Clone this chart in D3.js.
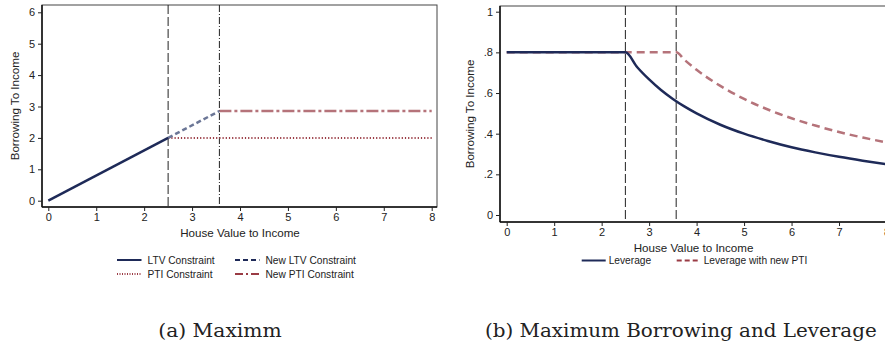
<!DOCTYPE html>
<html><head><meta charset="utf-8">
<script src="https://cdn.jsdelivr.net/npm/d3@7"></script>
<style>body{margin:0;background:#fff}svg{display:block}</style>
</head><body>
<svg id="c" width="885" height="345"></svg>
<script>
// ---- Data (left panel) ----
const xTicks = [0,1,2,3,4,5,6,7,8];
const yTicksA = [0,1,2,3,4,5,6];
const yTicksB = [0,0.2,0.4,0.6,0.8,1];
const yTickLabelsB = ["0",".2",".4",".6",".8","1"];
const cutoffs = [2.5, 3.57];
const ltvX = [0, 2.5], ltvY = [0, 2];
const newLtvX = [2.5, 3.57], newLtvY = [2, 2.857];
const ptiX = [2.5, 8], ptiY = [2, 2];
const newPtiX = [3.57, 8], newPtiY = [2.857, 2.857];
// ---- Data (right panel) ----
const levX = [0, 2.5, 2.75, 3, 3.25, 3.5, 3.75, 4, 4.5, 5, 5.5, 6, 6.5, 7, 7.5, 8];
const levY = [0.8, 0.8, 0.727, 0.667, 0.615, 0.571, 0.533, 0.5, 0.444, 0.4, 0.364, 0.333, 0.308, 0.286, 0.267, 0.25];
const levNewX = [0, 3.57, 3.75, 4, 4.5, 5, 5.5, 6, 6.5, 7, 7.5, 8];
const levNewY = [0.8, 0.8, 0.762, 0.714, 0.635, 0.571, 0.519, 0.476, 0.44, 0.408, 0.381, 0.357];
const legendA = ["LTV Constraint","PTI Constraint","New LTV Constraint","New PTI Constraint"];
const legendB = ["Leverage","Leverage with new PTI"];
const captions = ["(a) Maximm","(b) Maximum Borrowing and Leverage"];
const xTitle = "House Value to Income", yTitle = "Borrowing To Income";

const NAVY="#1e2a58", NAVYL="#6b7696", MAROON="#9a3b44", ROSE="#b5737a";
const svg = d3.select("#c");
const FONT = "Liberation Sans, Arial, sans-serif";
const zip=(xs,ys)=>xs.map((x,i)=>[x,ys[i]]);

function panel(cfg){
  const g = svg.append("g");
  const x = d3.scaleLinear().domain([0,8]).range(cfg.xr);
  const y = d3.scaleLinear().domain(cfg.yd).range(cfg.yr);
  g.append("rect").attr("x",cfg.fx[0]).attr("y",cfg.fy[0])
   .attr("width",cfg.fx[1]-cfg.fx[0]).attr("height",cfg.fy[1]-cfg.fy[0])
   .attr("fill","none").attr("stroke","#444").attr("stroke-width",1);
  const xa = g.append("g").attr("transform",`translate(0,${cfg.fy[1]})`)
    .call(d3.axisBottom(x).tickValues(xTicks).tickSize(4).tickPadding(2).tickFormat(d3.format("d")));
  const ya = g.append("g").attr("transform",`translate(${cfg.fx[0]},0)`)
    .call(d3.axisLeft(y).tickValues(cfg.yt).tickSize(4).tickPadding(3).tickFormat((d,i)=>cfg.ytl[i]));
  [xa,ya].forEach(a=>{a.selectAll("text").attr("font-family",FONT).attr("font-size",11).attr("fill","#222");
    a.select(".domain").attr("stroke","#111").attr("stroke-width",1.5);
    a.selectAll(".tick line").attr("stroke","#222");});
  ya.select(".domain").attr("d",`M-0,${cfg.fy[0]}V${cfg.fy[1]}`);
  xa.select(".domain").attr("d",`M${cfg.fx[0]},0H${cfg.fx[1]}`);
  g.append("text").attr("x",(cfg.xr[0]+cfg.xr[1])/2+cfg.xtdx).attr("y",cfg.fy[1]+30)
    .attr("text-anchor","middle").attr("font-family",FONT).attr("font-size",11.6).attr("fill","#222").text(xTitle);
  g.append("text").attr("transform",`translate(${cfg.ytx},${(cfg.fy[0]+cfg.fy[1])/2}) rotate(-90)`)
    .attr("text-anchor","middle").attr("font-family",FONT).attr("font-size",11.6).attr("fill","#222").text(yTitle);
  g.selectAll(".cut").data(cutoffs).join("line")
    .attr("x1",d=>x(d)).attr("x2",d=>x(d)).attr("y1",cfg.fy[0]).attr("y2",cfg.fy[1])
    .attr("stroke","#222").attr("stroke-width",1).attr("stroke-dasharray",(d,i)=>cfg.dash[i]);
  return {g,x,y};
}

// Left panel
const A = panel({xr:[48.3,431.7], yd:[0,6], yr:[200.7,12.3], fx:[42,437], fy:[5,207], yt:yTicksA, ytl:yTicksA.map(String), ytx:18.5, xtdx:0, dash:["9,3","7,2,1,2"]});
const lineA = d3.line().x(d=>A.x(d[0])).y(d=>A.y(d[1]));
A.g.append("path").attr("d",lineA(zip(ptiX,ptiY))).attr("fill","none").attr("stroke",MAROON).attr("stroke-width",2).attr("stroke-dasharray","1.2,2");
A.g.append("path").attr("d",lineA(zip(newPtiX,newPtiY))).attr("fill","none").attr("stroke",ROSE).attr("stroke-width",2.5).attr("stroke-dasharray","12,3,3,3");
A.g.append("path").attr("d",lineA(zip(newLtvX,newLtvY))).attr("fill","none").attr("stroke",NAVYL).attr("stroke-width",2.5).attr("stroke-dasharray","5,3");
A.g.append("path").attr("d",lineA(zip(ltvX,ltvY))).attr("fill","none").attr("stroke",NAVY).attr("stroke-width",2.5);

// Right panel
const B = panel({xr:[506.7,886.5], yd:[0,1], yr:[215,11.7], fx:[500,905], fy:[6,222], yt:yTicksB, ytl:yTickLabelsB, ytx:474, xtdx:-3, dash:["9,3","9,3"]});
const lineB = d3.line().x(d=>B.x(d[0])).y(d=>B.y(d[1])).curve(d3.curveMonotoneX);
B.g.append("path").attr("d",lineB(zip(levNewX,levNewY))).attr("fill","none").attr("stroke",ROSE).attr("stroke-width",2.5).attr("stroke-dasharray","8,5");
B.g.append("path").attr("d",lineB(zip(levX,levY))).attr("fill","none").attr("stroke",NAVY).attr("stroke-width",2.5);

// Legend A
const legStyles = [
  {c:NAVY,d:null,w:2},{c:MAROON,d:"1,1.5",w:1.8},{c:NAVY,d:"5,3",w:2},{c:MAROON,d:"8,3,2,3",w:2}];
const legPos = [[117,260],[117,274],[235,260],[235,274]];
legendA.forEach((t,i)=>{
  const [lx,ly]=legPos[i], s=legStyles[i];
  svg.append("line").attr("x1",lx).attr("x2",lx+24.5).attr("y1",ly).attr("y2",ly)
    .attr("stroke",s.c).attr("stroke-width",s.w).attr("stroke-dasharray",s.d);
  svg.append("text").attr("x",lx+30.5).attr("y",ly+3.6).attr("font-family",FONT).attr("font-size",10.2).attr("fill","#222").text(t);
});
// Legend B
const legBPos=[[581.7,260.5],[676.7,260.5]];
const legBStyles=[{c:NAVY,d:null},{c:MAROON,d:"5,3"}];
legendB.forEach((t,i)=>{
  const [lx,ly]=legBPos[i], s=legBStyles[i];
  svg.append("line").attr("x1",lx).attr("x2",lx+24).attr("y1",ly).attr("y2",ly)
    .attr("stroke",s.c).attr("stroke-width",2).attr("stroke-dasharray",s.d);
  svg.append("text").attr("x",lx+27).attr("y",ly+3.6).attr("font-family",FONT).attr("font-size",10.2).attr("fill","#222").text(t);
});
// Captions
const capPos=[[158.3,123.4],[485,391.7]];
captions.forEach((t,i)=>{
  svg.append("text").attr("x",capPos[i][0]).attr("y",336.7).attr("font-family","DejaVu Serif, serif")
    .attr("font-size",18.5).attr("fill","#222").attr("textLength",capPos[i][1]).attr("lengthAdjust","spacingAndGlyphs").text(t);
});
</script>
</body></html>
